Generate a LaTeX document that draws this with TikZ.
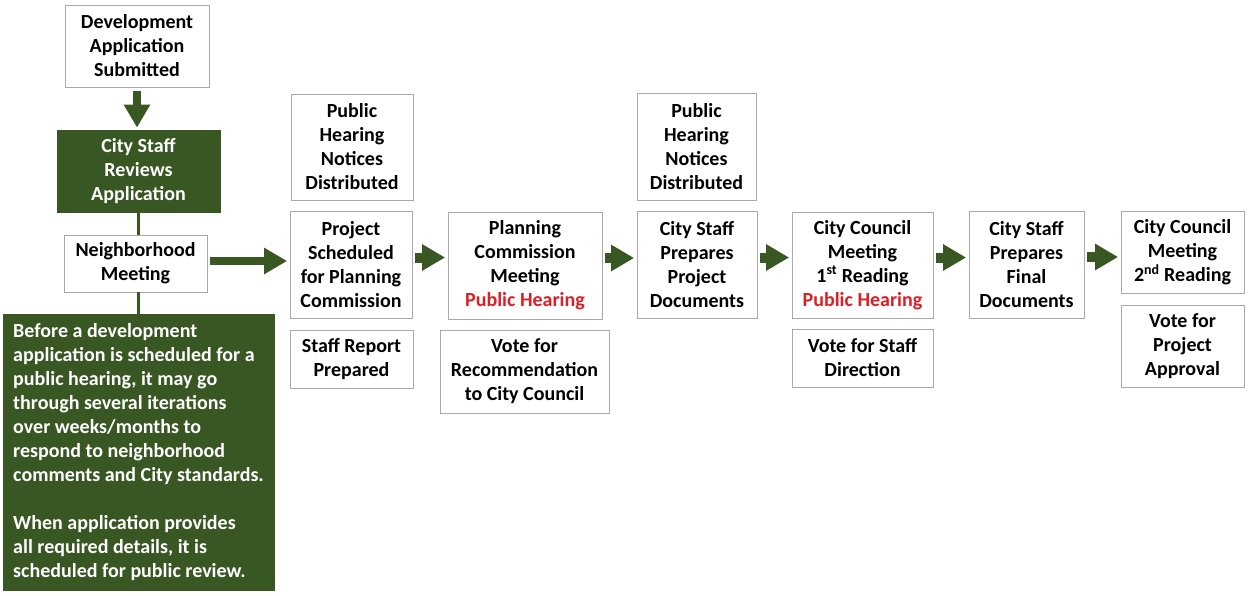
\documentclass[tikz,border=0pt]{standalone}
\usepackage{fontspec}
\setmainfont{Carlito}
\usetikzlibrary{arrows.meta,calc}
\definecolor{dkgreen}{RGB}{56,87,35}
\definecolor{hearred}{RGB}{218,32,38}
\definecolor{boxgray}{RGB}{170,170,170}
\begin{document}
\begin{tikzpicture}[x=1pt,y=-1pt,
  box/.style={draw=boxgray,line width=0.8pt,fill=white,align=center,inner sep=0pt,
    font=\fontsize{20}{24}\selectfont\bfseries},
  greenbox/.style={box,draw=dkgreen,fill=dkgreen,text=white},
  flow/.style={draw=dkgreen,line width=10pt,-{Triangle[width=25pt,length=23pt]},
    shorten <=2.5pt,shorten >=2.5pt},
  bigflow/.style={flow,line width=8pt},
  link/.style={draw=dkgreen,line width=3pt}]
\path[use as bounding box,fill=white] (0,0) rectangle (1251,595);

\node[box,minimum width=144pt,minimum height=82pt] (dev) at (137,46) {Development\\Application\\Submitted};
\node[greenbox,minimum width=163pt,minimum height=82pt] (csr) at (138.5,171) {City Staff\\Reviews\\Application};
\node[box,minimum width=143pt,minimum height=57pt] (nbh) at (135.5,263.5) {Neighborhood\\Meeting};
\node[greenbox,align=left,minimum width=271pt,minimum height=276pt] (note) at (138.5,452)
  {Before a development\\application is scheduled for a\\public hearing, it may go\\through several iterations\\over weeks/months to\\respond to neighborhood\\comments and City standards.\\[24pt]When application provides\\all required details, it is\\scheduled for public review.};

\node[box,minimum width=122pt,minimum height=106pt] (phn1) at (352,147) {Public\\Hearing\\Notices\\Distributed};
\node[box,minimum width=122pt,minimum height=107pt] (proj) at (351,264.5) {Project\\Scheduled\\for Planning\\Commission};
\node[box,minimum width=123pt,minimum height=58pt] (srep) at (351.5,359) {Staff Report\\Prepared};

\node[box,minimum width=154pt,minimum height=107pt] (plan) at (525,265.5) {Planning\\Commission\\Meeting\\\textcolor{hearred}{Public Hearing}};
\node[box,minimum width=169pt,minimum height=83pt] (vrec) at (524.5,371.5) {Vote for\\Recommendation\\to City Council};

\node[box,minimum width=119pt,minimum height=107pt] (phn2) at (696.5,146.5) {Public\\Hearing\\Notices\\Distributed};
\node[box,minimum width=120pt,minimum height=107pt] (csp) at (697,264.5) {City Staff\\Prepares\\Project\\Documents};

\node[box,minimum width=141pt,minimum height=106pt] (cc1) at (862.5,265) {City Council\\Meeting\\1\textsuperscript{st} Reading\\\textcolor{hearred}{Public Hearing}};
\node[box,minimum width=141pt,minimum height=58pt] (vstaff) at (862.5,358) {Vote for Staff\\Direction};

\node[box,minimum width=115pt,minimum height=107pt] (csf) at (1026.5,264.5) {City Staff\\Prepares\\Final\\Documents};

\node[box,minimum width=123pt,minimum height=82pt] (cc2) at (1182.5,252.5) {City Council\\Meeting\\2\textsuperscript{nd} Reading};
\node[box,minimum width=123pt,minimum height=82pt] (vproj) at (1182.5,346.5) {Vote for\\Project\\Approval};

% connectors
\draw[bigflow,shorten <=4pt,shorten >=2pt] (dev.south) -- (dev.south |- csr.north);
\draw[link] (csr.south) -- (csr.south |- nbh.north);
\draw[link] (csr.south |- nbh.south) -- (csr.south |- note.north);
\draw[bigflow] ([yshift=2.5pt]nbh.east) -- ([yshift=2.5pt]nbh.east -| proj.west);
\draw[flow] ([yshift=7pt]proj.east) -- ([yshift=7pt]proj.east -| plan.west);
\draw[flow] ([yshift=7.5pt]plan.east) -- ([yshift=7.5pt]plan.east -| csp.west);
\draw[flow] ([yshift=7pt]csp.east) -- ([yshift=7pt]csp.east -| cc1.west);
\draw[flow] ([yshift=7.5pt]cc1.east) -- ([yshift=7.5pt]cc1.east -| csf.west);
\draw[flow] ([yshift=7.5pt]csf.east) -- ([yshift=7.5pt]csf.east -| cc2.west);
\end{tikzpicture}
\end{document}
